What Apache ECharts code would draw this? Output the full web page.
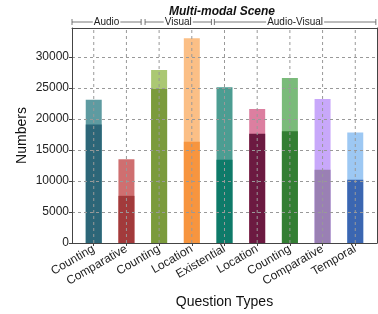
<!DOCTYPE html>
<html><head><meta charset="utf-8">
<script src="https://cdn.jsdelivr.net/npm/echarts@6/dist/echarts.min.js"></script>
<style>html,body{margin:0;padding:0;background:#fff}#c{width:378px;height:314px}</style>
</head><body><div id="c"></div>
<script>
var categories = ['Counting','Comparative','Counting','Location','Existential','Location','Counting','Comparative','Temporal'];
var totals = [23100, 13500, 27900, 33000, 25100, 21600, 26600, 23200, 17800];
var parts  = [19100, 7600, 24800, 16300, 13400, 17600, 18000, 11800, 10200];
var darkColors  = ['#2c6678','#a23a3b','#7b9b3c','#f7953f','#0e7a69','#6c1a41','#337e33','#9a80b4','#3b66b1'];
var lightColors = ['#5e9ba1','#cf6f70','#abc873','#fbbf86','#4c9d92','#dc7fa0','#7abb7a','#c8a8fa','#9dc8f3'];
var groups = [['Audio', -0.665, 1.45], ['Visual', 1.57, 3.6], ['Audio-Visual', 3.69, 8.63]];
var yTicks = [0, 5000, 10000, 15000, 20000, 25000, 30000];
var idx = categories.map(function(_, i){ return i; });
var yMax = 34650;

var font = 'Liberation Sans, Arial, sans-serif';
var chart = echarts.init(document.getElementById('c'));
chart.setOption({
  animation: false,
  title: { text: 'Multi-modal Scene', left: 217, top: 1, textAlign: 'center',
    textStyle: { fontFamily: font, fontSize: 12, fontWeight: 'bold', fontStyle: 'italic', color: '#111' } },
  grid: { left: 72, right: 1, top: 28, bottom: 71 },
  xAxis: [{
    type: 'value', min: -0.665, max: 8.665, z: 6,
    name: 'Question Types', nameLocation: 'middle', nameGap: 52,
    nameTextStyle: { fontFamily: font, fontSize: 14, color: '#111' },
    axisLine: { show: true, onZero: false, lineStyle: { color: '#444', width: 1 } },
    axisTick: { show: true, length: 3, customValues: idx, lineStyle: { color: '#444' } },
    axisLabel: { customValues: idx, rotate: 30, margin: 5, fontFamily: font, fontSize: 12, color: '#222',
      formatter: function(v){ return categories[Math.round(v)]; } },
    splitLine: { show: false }
  }, {
    type: 'value', position: 'top', min: -0.665, max: 8.665, z: 6,
    axisLine: { show: true, onZero: false, lineStyle: { color: '#444', width: 1 } },
    axisTick: { show: false }, axisLabel: { show: false }, splitLine: { show: false }
  }],
  yAxis: [{
    type: 'value', min: 0, max: yMax, interval: 5000, z: 5,
    name: 'Numbers', nameLocation: 'middle', nameGap: 43, nameMoveOverlap: false,
    nameTextStyle: { fontFamily: font, fontSize: 14, color: '#111' },
    axisLine: { show: true, onZero: false, lineStyle: { color: '#444', width: 1 } },
    axisTick: { show: true, length: 3, lineStyle: { color: '#444' } },
    axisLabel: { fontFamily: font, fontSize: 12, color: '#222', margin: 3, showMaxLabel: false,
      formatter: function(v){ return yTicks.indexOf(v) >= 0 ? String(v) : ''; } },
    splitLine: { show: true, showMinLine: false, showMaxLine: false, lineStyle: { color: '#999', type: [3, 3], width: 1 } }
  }, {
    type: 'value', position: 'right', min: 0, max: yMax, z: 6,
    axisLine: { show: true, onZero: false, lineStyle: { color: '#444', width: 1 } },
    axisTick: { show: false }, axisLabel: { show: false }, splitLine: { show: false }
  }],
  series: [{
    type: 'bar', name: 'total', barWidth: 16, barGap: '-100%', z: 2,
    data: totals.map(function(v, i){ return { value: [i, v], itemStyle: { color: lightColors[i] } }; })
  }, {
    type: 'bar', name: 'part', barWidth: 16, barGap: '-100%', z: 3,
    data: parts.map(function(v, i){ return { value: [i, v], itemStyle: { color: darkColors[i] } }; })
  }, {
    type: 'custom', z: 4, silent: true,
    data: idx,
    renderItem: function(params, api){
      var p0 = api.coord([api.value(0), 0]);
      var p1 = api.coord([api.value(0), yMax]);
      return { type: 'line', shape: { x1: p0[0], y1: p0[1], x2: p1[0], y2: p1[1] },
        style: { stroke: '#999', lineWidth: 1, lineDash: [3, 3] } };
    }
  }, {
    type: 'custom', z: 10, clip: false, silent: true,
    data: groups.map(function(g){ return [g[1], g[2]]; }),
    renderItem: function(params, api){
      var x0 = api.coord([api.value(0), 0])[0];
      var x1 = api.coord([api.value(1), 0])[0];
      var y = 22, c = '#555';
      var label = groups[params.dataIndex][0];
      return { type: 'group', children: [
        { type: 'line', shape: { x1: x0, y1: y, x2: x1, y2: y }, style: { stroke: c, lineWidth: 0.8 } },
        { type: 'line', shape: { x1: x0, y1: y - 3, x2: x0, y2: y + 3 }, style: { stroke: c, lineWidth: 0.8 } },
        { type: 'line', shape: { x1: x1, y1: y - 3, x2: x1, y2: y + 3 }, style: { stroke: c, lineWidth: 0.8 } },
        { type: 'text', x: (x0 + x1) / 2, y: y, style: { text: label, fill: '#222', font: '10px ' + font,
          align: 'center', verticalAlign: 'middle', backgroundColor: '#fff', padding: [0, 1] } }
      ]};
    }
  }]
});
</script></body></html>
